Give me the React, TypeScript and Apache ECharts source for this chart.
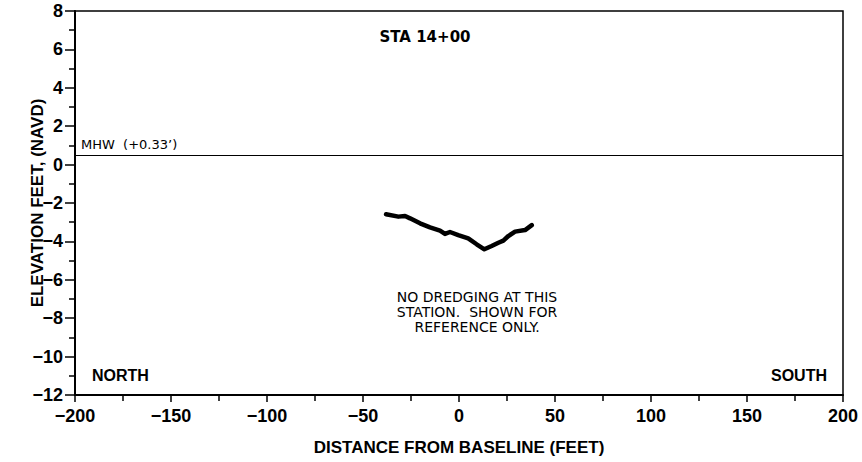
import React, { useEffect, useRef } from "react";
import * as echarts from "echarts";

// Profile: distance from baseline (feet) and elevation (feet, NAVD)
const distance = [-38.0, -31.6, -28.1, -25.5, -20.3, -15.1, -9.9, -7.3, -4.7, -0.4, 4.8, 9.2, 13.2, 17.0, 20.5, 23.1, 25.7, 29.2, 34.4, 37.9];
const elevation = [-2.59, -2.71, -2.68, -2.8, -3.06, -3.27, -3.44, -3.61, -3.51, -3.67, -3.84, -4.15, -4.41, -4.24, -4.07, -3.96, -3.72, -3.49, -3.41, -3.15];

const mhwLevel = [0.48];
const mhwLabel = "MHW  (+0.33’)";
const xRange = [-200, 200];
const yRange = [-12, 8];
const xStep = 50;
const yStep = 2;
const stationTitle = "STA 14+00";
const noteLines = ["NO DREDGING AT THIS", "STATION.  SHOWN FOR", "REFERENCE ONLY."];
const leftSide = "NORTH";
const rightSide = "SOUTH";
const xTitle = "DISTANCE FROM BASELINE (FEET)";
const yTitle = "ELEVATION FEET, (NAVD)";

const BOLD = "'Liberation Sans', Arial, sans-serif";
const REG = "'DejaVu Sans', sans-serif";
const TITLEF = "'DejaVu Sans', sans-serif";

const fmt = (v: number) => String(v).replace("-", "\u2212");

export default function App() {
  const ref = useRef<HTMLDivElement>(null);
  useEffect(() => {
    if (!ref.current) return;
    const chart = echarts.init(ref.current, undefined, { renderer: "svg" });
    const data = distance.map((d, i) => [d, elevation[i]]);
    chart.setOption({
      animation: false,
      backgroundColor: "#fff",
      grid: { left: 75, right: 19, top: 11, bottom: 67, show: true, borderColor: "#000", borderWidth: 1.5 },
      xAxis: {
        type: "value",
        min: xRange[0],
        max: xRange[1],
        interval: xStep,
        name: xTitle,
        nameLocation: "middle",
        nameGap: 44,
        nameMoveOverlap: false,
        nameTextStyle: { color: "#000", fontFamily: BOLD, fontWeight: "bold", fontSize: 17 },
        axisLine: { show: true, onZero: false, lineStyle: { color: "#000", width: 2 } },
        axisTick: { show: true, length: 7, lineStyle: { color: "#000", width: 1.5 } },
        minorTick: { show: true, splitNumber: 2, length: 6, lineStyle: { color: "#000", width: 1.5 } },
        splitLine: { show: false },
        axisLabel: { color: "#000", fontFamily: BOLD, fontWeight: "bold", fontSize: 18, margin: 12, formatter: fmt },
      },
      yAxis: {
        type: "value",
        min: yRange[0],
        max: yRange[1],
        interval: yStep,
        name: yTitle,
        nameLocation: "middle",
        nameGap: 29,
        nameMoveOverlap: false,
        nameTextStyle: { color: "#000", fontFamily: BOLD, fontWeight: "bold", fontSize: 17 },
        axisLine: { show: true, onZero: false, lineStyle: { color: "#000", width: 2 } },
        axisTick: { show: true, length: 10, lineStyle: { color: "#000", width: 1.5 } },
        minorTick: { show: true, splitNumber: 2, length: 6, lineStyle: { color: "#000", width: 1.5 } },
        splitLine: { show: false },
        axisLabel: { color: "#000", fontFamily: BOLD, fontWeight: "bold", fontSize: 18, margin: 12, formatter: fmt },
      },
      series: [
        {
          type: "line",
          data,
          symbol: "none",
          lineStyle: { color: "#000", width: 4.5, cap: "round", join: "round" },
          markLine: {
            silent: true,
            symbol: "none",
            animation: false,
            lineStyle: { color: "#000", width: 1, type: "solid" },
            label: {
              show: true,
              position: "insideStartTop",
              formatter: mhwLabel,
              color: "#000",
              fontFamily: REG,
              fontSize: 13,
              distance: [6, 4],
            },
            data: [{ yAxis: mhwLevel[0] }],
          },
        },
      ],
      graphic: [
        {
          type: "text",
          x: 425,
          y: 37,
          style: { text: stationTitle, fill: "#000", font: `bold 15px ${TITLEF}`, textAlign: "center", textVerticalAlign: "middle" },
        },
        {
          type: "text",
          x: 477,
          y: 289,
          style: {
            text: noteLines.join("\n"),
            fill: "#000",
            font: `14px ${REG}`,
            lineHeight: 15,
            textAlign: "center",
            textVerticalAlign: "top",
          },
        },
        {
          type: "text",
          x: 92,
          y: 375,
          style: { text: leftSide, fill: "#000", font: `bold 16px ${BOLD}`, textAlign: "left", textVerticalAlign: "middle" },
        },
        {
          type: "text",
          x: 827,
          y: 375,
          style: { text: rightSide, fill: "#000", font: `bold 16px ${BOLD}`, textAlign: "right", textVerticalAlign: "middle" },
        },
      ],
    });
    return () => chart.dispose();
  }, []);
  return <div ref={ref} style={{ position: "absolute", left: 0, top: 0, width: 862, height: 462 }} />;
}
